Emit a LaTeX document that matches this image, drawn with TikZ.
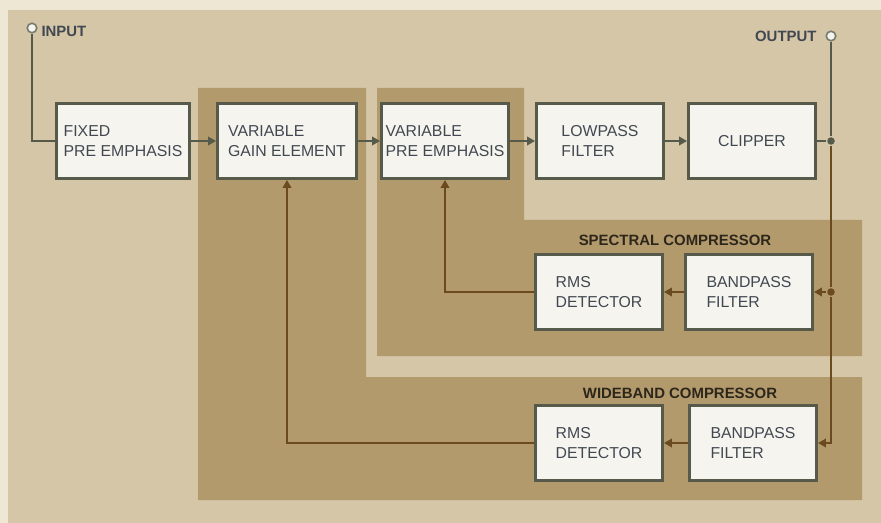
\documentclass[tikz,border=0pt]{standalone}
\usepackage{fontspec}
\setmainfont{Liberation Sans}
\usetikzlibrary{arrows.meta,positioning}

\definecolor{crema}{HTML}{EDE7D4}
\definecolor{fondo}{HTML}{D4C6A6}
\definecolor{zona}{HTML}{B39A6C}
\definecolor{caja}{HTML}{F5F4EE}
\definecolor{marco}{HTML}{555A4A}
\definecolor{tinta}{HTML}{424852}
\definecolor{cafe}{HTML}{6A4A1E}

\tikzset{
  bloque/.style={draw=marco, line width=1.7pt, fill=caja, text=tinta, align=left,
    minimum width=2.54cm, minimum height=1.5cm, inner xsep=2pt,
    font=\fontsize{9}{11.3}\selectfont},
  titulo/.style={text=black!75!zona, font=\fontsize{8.5}{10}\selectfont\bfseries},
  etiqueta/.style={text=tinta, font=\fontsize{8.5}{10}\selectfont\bfseries, inner sep=0pt},
  terminal/.style={circle, draw=marco!80, fill=caja, line width=0.9pt, inner sep=0pt, minimum size=0.19cm},
  punto/.style={circle, fill=marco, inner sep=0pt, minimum size=0.15cm},
  senal/.style={draw=marco, ->},
  lazo/.style={draw=cafe, ->}
}

\begin{document}
\begin{tikzpicture}[x=0.02cm, y=-0.02cm, >={Triangle[length=1.6mm, width=1.7mm]}, line width=1.1pt]
  \useasboundingbox (0,0) rectangle (881,523);
  % fondo
  \fill[crema] (0,0) rectangle (881,523);
  \fill[fondo] (8,10) rectangle (881,523);
  % zonas de los compresores
  \fill[zona] (198,88) -- (366,88) -- (366,377) -- (862,377) -- (862,500) -- (198,500) -- cycle;
  \fill[zona] (377,88) -- (524,88) -- (524,220) -- (862,220) -- (862,356) -- (377,356) -- cycle;
  \node[titulo] (tesp) at (675,240) {SPECTRAL COMPRESSOR};
  \node[titulo] (tanc) at (680,393) {WIDEBAND COMPRESSOR};
  % cadena principal
  \node[bloque, minimum width=2.68cm] (fija) at (123,141) {FIXED\\PRE EMPHASIS};
  \node[bloque, minimum width=2.78cm] (ganancia) at (287,141) {VARIABLE\\GAIN ELEMENT};
  \node[bloque] (varpre) at (445,141) {VARIABLE\\PRE EMPHASIS};
  \node[bloque] (pasabajo) at (600,141) {LOWPASS\\FILTER};
  \node[bloque, align=center] (recortador) at (752,141) {CLIPPER};
  % compresor espectral
  \node[bloque] (rmsesp) at (599,292) {RMS\\DETECTOR};
  \node[bloque] (bpesp) at (749,292) {BANDPASS\\FILTER};
  % compresor de banda ancha
  \node[bloque] (rmsanc) at (599,443) {RMS\\DETECTOR};
  \node[bloque] (bpanc) at (753,443) {BANDPASS\\FILTER};
  % entrada y salida
  \node[terminal] (entrada) at (32,28) {};
  \node[etiqueta, right=0.06cm of entrada, yshift=-0.06cm] (tent) {INPUT};
  \node[terminal] (salida) at (831,36) {};
  \node[etiqueta, left=0.16cm of salida] (tsal) {OUTPUT};
  \node[punto] (nodo1) at (salida |- recortador) {};
  \node[punto, fill=cafe] (nodo2) at (salida |- bpesp) {};
  % conexiones
  \draw[draw=marco] (entrada) |- (fija.west);
  \draw[senal] (fija) -- (ganancia);
  \draw[senal] (ganancia) -- (varpre);
  \draw[senal] (varpre) -- (pasabajo);
  \draw[senal] (pasabajo) -- (recortador);
  \draw[draw=marco] (recortador) -- (nodo1);
  \draw[draw=marco] (nodo1) -- (salida);
  \draw[draw=cafe] (nodo1) -- (nodo2);
  \draw[lazo] (nodo2) -- (bpesp);
  \draw[lazo] (nodo2) |- (bpanc.east);
  \draw[lazo] (bpesp) -- (rmsesp);
  \draw[lazo] (bpanc) -- (rmsanc);
  % realimentacion
  \draw[lazo] (rmsesp.west) -| (varpre.south);
  \draw[lazo] (rmsanc.west) -| (ganancia.south);
\end{tikzpicture}
\end{document}
